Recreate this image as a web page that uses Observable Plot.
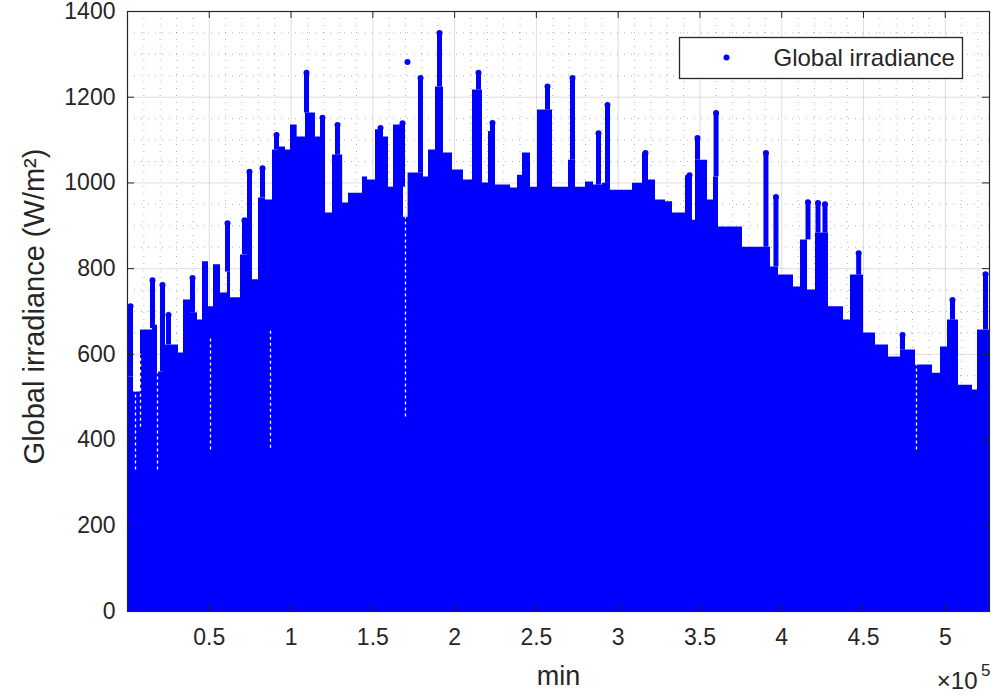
<!DOCTYPE html>
<html><head><meta charset="utf-8">
<script src="https://cdn.jsdelivr.net/npm/d3@7"></script>
<script src="https://cdn.jsdelivr.net/npm/@observablehq/plot@0.6"></script>
<style>html,body{margin:0;padding:0;background:#fff;}</style>
</head><body><div id="chart"></div>
<script>
// Upper envelope of the dense scatter (minutes, W/m2)
const envX = [0,3670,7950,15290,18340,22010,31180,34240,38520,42800,45860,49520,52580,56860,61140,62970,69080,73370,76430,80090,84370,88650,92320,96600,99660,103730,108830,114940,118000,121060,125340,131560,135120,143680,146740,151630,154690,159580,162640,168750,171560,177320,180990,184040,188320,193200,198700,205430,210930,217040,220710,225000,234170,238450,241510,246400,250690,259860,269640,273910,280030,284920,290420,295310,308760,314870,318540,322820,328930,333220,341160,345440,347280,351560,354620,358280,361340,376020,388860,393140,398030,407200,411480,415760,420660,428610,437780,442060,450010,457350,465290,472630,481800,492190,497080,501360,508090,516650,519710,527040];
const envY = [547,512,657,668,559,622,603,727,697,680,816,711,809,743,792,732,832,953,774,965,960,1077,1084,1077,1135,1107,1163,1107,1147,930,1065,953,976,1014,1007,1124,1107,990,1135,920,1023,1023,1014,1077,1224,1070,1030,1007,1217,1000,1120,995,988,1018,1070,990,1170,990,1053,990,1002,995,999,983,999,1070,1007,960,956,930,1017,913,1053,1053,960,1014,897,850,850,804,785,757,867,750,883,711,680,785,650,622,594,610,575,556,617,680,528,517,657,657];

// Dot columns rising above the envelope
const spikeX    = [1830,15290,21400,25070,39740,61140,71530,74590,82540,91100,109440,119220,128390,154690,168140,179150,190760,214600,223160,256790,272070,287970,293470,316700,343610,348500,359870,390360,396480,416070,422180,426460,447050,473850,504420,524600];
const spikeTop  = [712,773,762,692,778,906,913,1026,1034,1112,1257,1152,1135,1128,1139,1245,1350,1257,1140,1225,1245,1116,1182,1070,1018,1105,1163,1070,967,955,953,950,836,645,727,787];
const spikeBase = [547,660,559,622,697,792,832,900,965,1077,1163,1100,1065,1010,990,1023,1224,1217,1000,1170,1053,995,999,1007,930,1053,1014,850,804,867,883,883,785,610,680,657];

// Isolated points
const loneX = [171200];
const loneY = [1282];

// Thin gaps (missing readings) inside the dense region
const gapX  = [4890,7950,18340,50750,87430,169960,482400];
const gapLo = [330,430,330,377,381,454,377];
const gapHi = [520,600,560,640,656,920,603];

const xTicks = [50000,100000,150000,200000,250000,300000,350000,400000,450000,500000];
const xTickLabels = ["0.5","1","1.5","2","2.5","3","3.5","4","4.5","5"];
const yTicks = [0,200,400,600,800,1000,1200,1400];
const yTickLabels = ["0","200","400","600","800","1000","1200","1400"];
const xLabel = "min";
const yLabel = "Global irradiance (W/m²)";
const legendLabel = "Global irradiance";
const expBase = "×10", expPow = "5";

const env = envX.map((x,i)=>({x, y: envY[i]}));
const spikes = spikeX.map((x,i)=>({x, top: spikeTop[i], base: spikeBase[i]}));
const lone = loneX.map((x,i)=>({x, y: loneY[i]}));
const gaps = gapX.map((x,i)=>({x, lo: gapLo[i], hi: gapHi[i]}));

const W=991, H=696, mL=127, mR=2, mT=11, mB=85;
const plotH = H-mT-mB, plotW = W-mL-mR;
const xMinor = d3.range(10000, 527040, 10000).filter(v => v % 50000 !== 0);
const yMinor = d3.range(50, 1400, 50).filter(v => v % 200 !== 0);
const blue = "#0000ff", ink = "#262626";

const chart = Plot.plot({
  width: W, height: H, marginLeft: mL, marginRight: mR, marginTop: mT, marginBottom: mB,
  style: {fontFamily: "'Liberation Sans', Arial, sans-serif", fontSize: "23px", color: ink, background: "#fff"},
  x: {domain: [0, 527040]},
  y: {domain: [0, 1400]},
  marks: [
    Plot.gridX(xMinor, {stroke: ink, strokeOpacity: 0.35, strokeDasharray: "1,6"}),
    Plot.gridY(yMinor, {stroke: ink, strokeOpacity: 0.35, strokeDasharray: "1,6"}),
    Plot.gridX(xTicks, {stroke: ink, strokeOpacity: 0.15}),
    Plot.gridY(yTicks, {stroke: ink, strokeOpacity: 0.15}),
    Plot.areaY(env, {x: "x", y: "y", curve: "step-after", fill: blue}),
    Plot.ruleX(spikes, {x: "x", y1: "base", y2: "top", stroke: blue, strokeWidth: 5}),
    Plot.dot(spikes, {x: "x", y: "top", r: 3, fill: blue}),
    Plot.dot(lone, {x: "x", y: "y", r: 3, fill: blue}),
    Plot.ruleX(gaps, {x: "x", y1: "lo", y2: "hi", stroke: "#fff", strokeWidth: 1.3, strokeDasharray: "3,3"}),
    Plot.axisX(xTicks, {tickSize: 0, tickPadding: 17, tickFormat: (d,i) => xTickLabels[i], label: null}),
    Plot.axisY(yTicks, {tickSize: 0, tickPadding: 12, tickFormat: (d,i) => yTickLabels[i], label: null}),
    Plot.ruleX(xTicks, {insetTop: plotH-7, stroke: ink}),
    Plot.ruleX(xTicks, {insetBottom: plotH-7, stroke: ink}),
    Plot.ruleY(yTicks, {insetRight: plotW-7, stroke: ink}),
    Plot.ruleY(yTicks, {insetLeft: plotW-7, stroke: ink}),
    Plot.frame({stroke: ink, strokeWidth: 1.2}),
    Plot.frame({insetLeft: 552, insetRight: 27, insetTop: 26, insetBottom: 533, fill: "#fff", stroke: ink, strokeWidth: 1.3}),
    Plot.dot([legendLabel], {frameAnchor: "top-left", dx: 599, dy: 46, r: 3, fill: blue}),
    Plot.text([legendLabel], {frameAnchor: "top-left", dx: 646, dy: 47, textAnchor: "start", lineAnchor: "middle", fontSize: 24, fill: ink}),
    Plot.text([yLabel], {frameAnchor: "left", rotate: -90, dx: -93, dy: -5, textAnchor: "middle", lineAnchor: "middle", fontSize: 29, fill: ink}),
    Plot.text([xLabel], {frameAnchor: "bottom", dy: 65, textAnchor: "middle", lineAnchor: "middle", fontSize: 27, fill: ink}),
    Plot.text([expBase], {frameAnchor: "bottom-right", dx: -12, dy: 70, textAnchor: "end", lineAnchor: "middle", fontSize: 24, fill: ink}),
    Plot.text([expPow], {frameAnchor: "bottom-right", dx: 1, dy: 59, textAnchor: "end", lineAnchor: "middle", fontSize: 17, fill: ink})
  ]
});
document.getElementById("chart").appendChild(chart);
</script>
</body></html>
